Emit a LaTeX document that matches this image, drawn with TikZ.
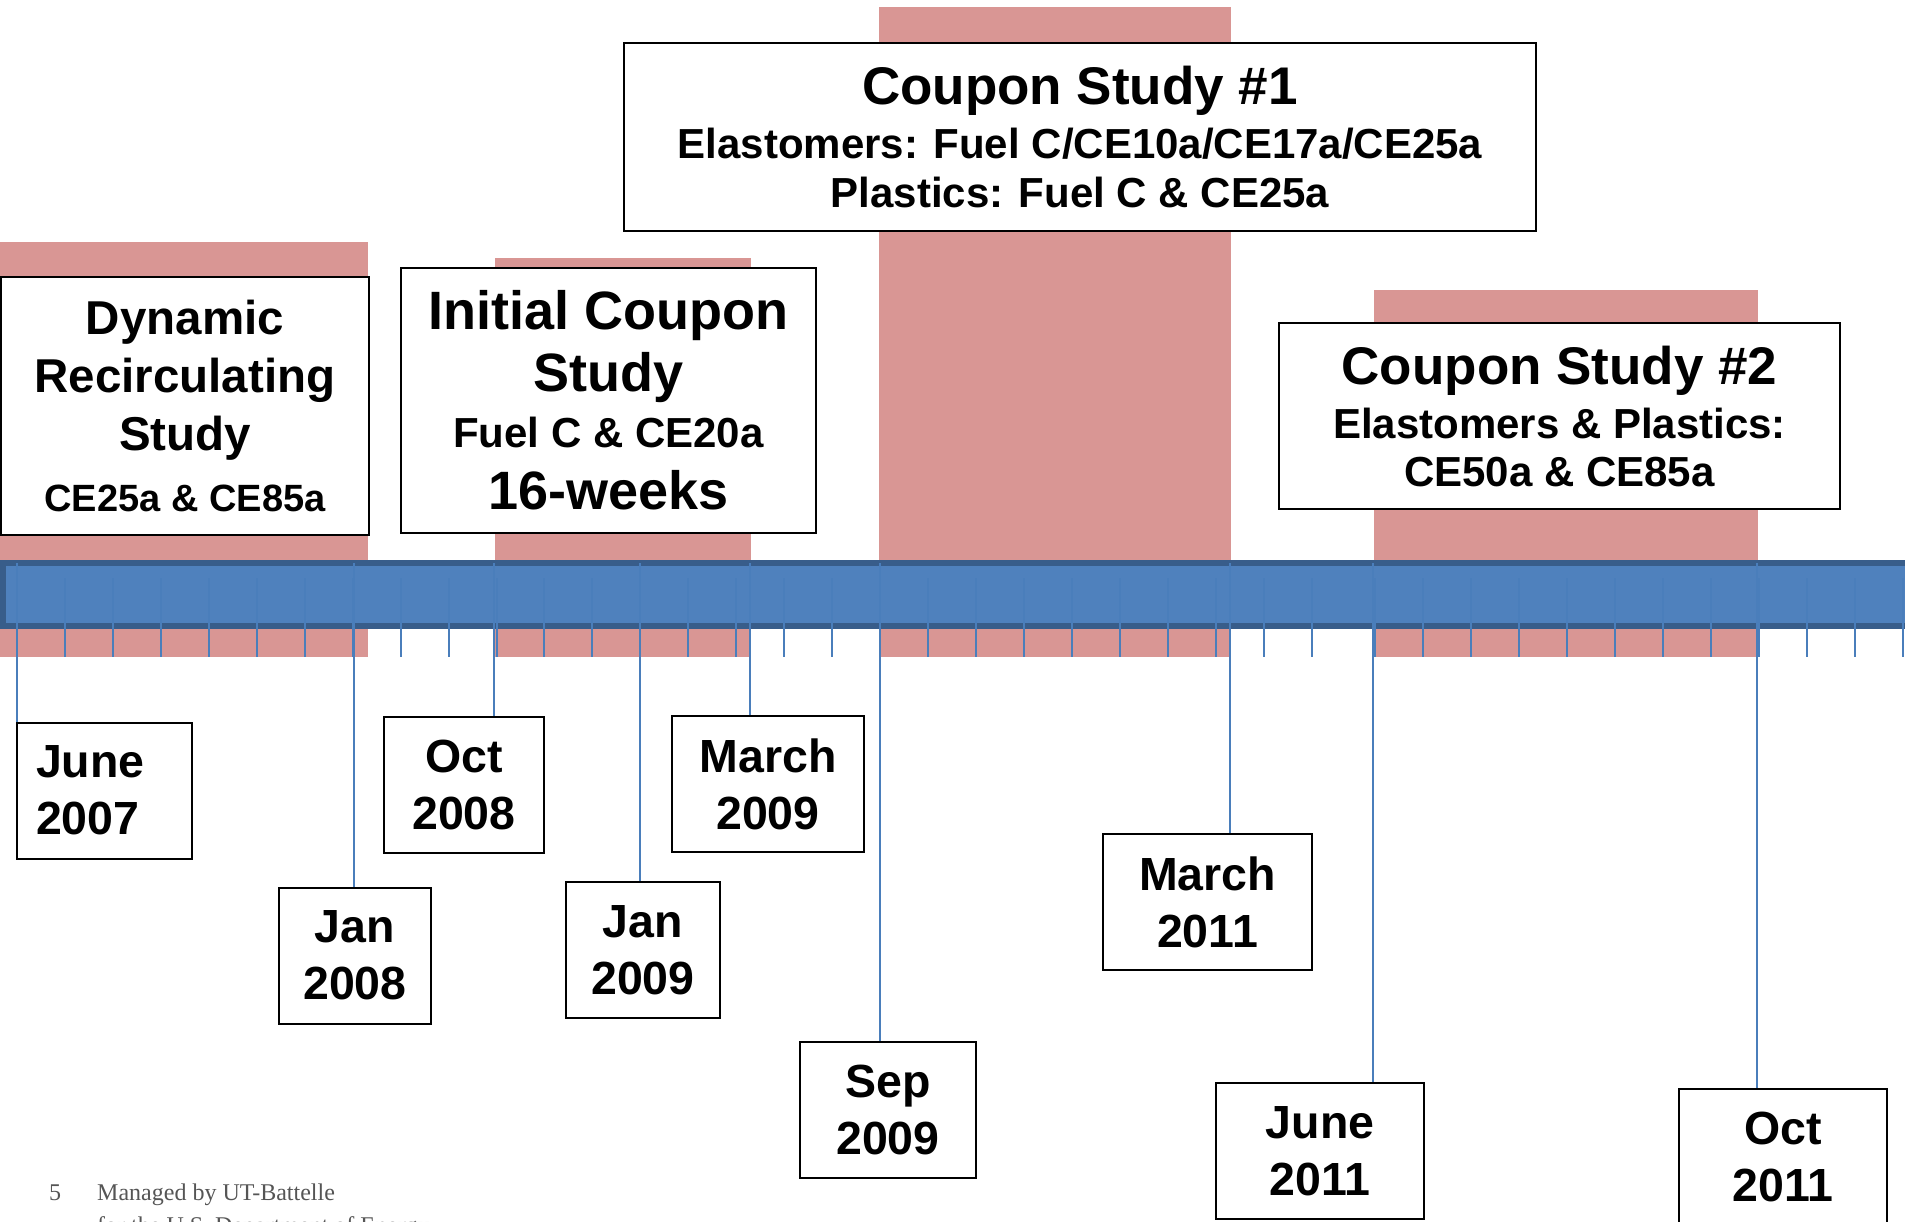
\documentclass[tikz,border=0pt]{standalone}
\usepackage{fontspec}
\setmainfont{Liberation Sans}
\newfontfamily\footfont{Liberation Serif}
\definecolor{studypink}{HTML}{D99694}
\definecolor{barblue}{HTML}{4F81BD}
\definecolor{bardark}{HTML}{385D8A}
\definecolor{tickblue}{HTML}{4A7EBB}
\definecolor{footgray}{HTML}{555555}
\tikzset{
  studybox/.style={draw=black, line width=2pt, fill=white, align=center, inner sep=0pt, font=\bfseries},
  datebox/.style={studybox, minimum height=136pt, font=\bfseries\fontsize{46.5}{57}\selectfont},
  conn/.style={draw=tickblue, line width=2pt},
  tickmark/.style={draw=tickblue, line width=2pt},
  band/.style={fill=studypink},
  footnote/.style={anchor=base west, inner sep=0pt, text=footgray, font=\footfont\fontsize{24}{28}\selectfont},
}
\begin{document}
\begin{tikzpicture}[x=1pt,y=-1pt]
\useasboundingbox (0,0) rectangle (1905,1221);
\clip (0,0) rectangle (1905,1221);
\fill[band] (0,242) rectangle (368,657);
\fill[band] (495,258) rectangle (751,657);
\fill[band] (879,7) rectangle (1231,657);
\fill[band] (1374,290) rectangle (1758,657);
\draw[draw=bardark, line width=6pt, fill=barblue] (3,563) rectangle (1925,626);
\foreach \k in {0,...,27}
  \draw[tickmark] ({17+47.95*\k},578) -- ++(0,79);
\foreach \k in {0,...,11}
  \draw[tickmark] ({1375.3+47.95*\k},578) -- ++(0,79);

\node[studybox, minimum width=368pt, minimum height=258pt, font=\bfseries\fontsize{47.5}{58}\selectfont] (dynamic) at (185,406)
  {Dynamic\\Recirculating\\Study\\[3pt]{\fontsize{38}{58}\selectfont CE25a \& CE85a}};
\node[studybox, minimum width=415pt, minimum height=265pt, font=\bfseries\fontsize{54}{62}\selectfont] (initial) at (608.5,400.5)
  {Initial Coupon\\Study\\[-6pt]{\fontsize{42}{62}\selectfont Fuel C \& CE20a}\\16-weeks};
\node[studybox, minimum width=912pt, minimum height=188pt, font=\bfseries\fontsize{42}{49}\selectfont] (coupon1) at (1080,137)
  {{\fontsize{53}{49}\selectfont Coupon Study \#1}\\[5pt]Elastomers: Fuel C/CE10a/CE17a/CE25a\\Plastics: Fuel C \& CE25a};
\node[studybox, minimum width=561pt, minimum height=186pt, font=\bfseries\fontsize{42}{48}\selectfont] (coupon2) at (1559.5,416)
  {{\fontsize{53}{48}\selectfont Coupon Study \#2}\\[6pt]Elastomers \& Plastics:\\CE50a \& CE85a};

\coordinate (jun07-t) at (17,563);
\draw[conn] (jun07-t) -- (17,723);
\node[datebox, align=left, text width=137pt, inner xsep=19pt] (jun07) at (104.5,790.5) {June\\2007};
\foreach \nm/\cx/\cy/\w/\lx/\txt in {
  jan08/355/955.5/152/354/{Jan\\2008},
  oct08/464/784.5/160/494/{Oct\\2008},
  jan09/643/950/154/640/{Jan\\2009},
  mar09/768/784/192/750/{March\\2009},
  sep09/888/1110/176/880/{Sep\\2009},
  mar11/1207.5/902/209/1230/{March\\2011},
  jun11/1320/1151/208/1373/{June\\2011},
  oct11/1783/1157/208/1757/{Oct\\2011}}{
  \node[datebox, minimum width=\w pt] (\nm) at (\cx,\cy) {\txt};
  \coordinate (\nm-t) at (\lx,563);
  \draw[conn] (\nm-t) -- (\nm-t |- \nm.north);
}

\node[footnote] (pagenum) at (49,1200) {5};
\node[footnote] (managed) at (97,1200) {Managed by UT-Battelle};
\node[footnote] (doe) at (97,1233) {for the U.S. Department of Energy};
\end{tikzpicture}
\end{document}
